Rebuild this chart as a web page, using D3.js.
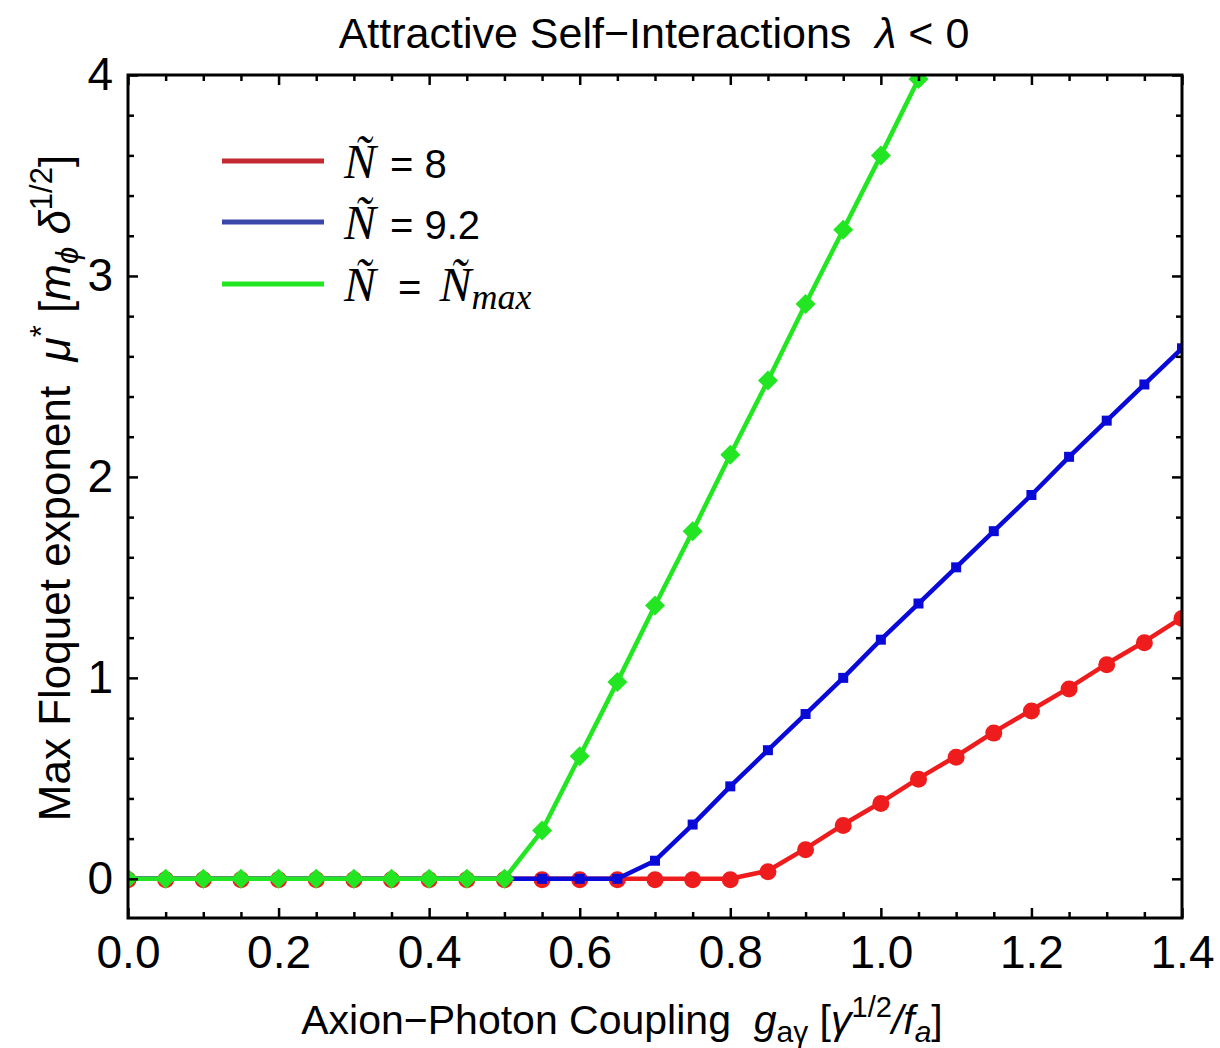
<!DOCTYPE html>
<html>
  <head>
    <meta charset="utf-8">
    <title>Max Floquet exponent</title>
    <script src="https://d3js.org/d3.v7.min.js"></script>
    <style>
      body { margin: 0; background: #fff; }
      text { font-family: "Liberation Sans", Arial, sans-serif; fill: #000; white-space: pre; }
      .serif { font-family: "Liberation Serif", "DejaVu Serif", serif; font-style: italic; }
    </style>
  </head>
  <body>
    <script>
      // coupling values g_aγ (x axis)
      const couplings = [0.0, 0.05, 0.1, 0.15, 0.2, 0.25, 0.3, 0.35, 0.4, 0.45, 0.5, 0.55, 0.6, 0.65, 0.7,
                         0.75, 0.8, 0.85, 0.9, 0.95, 1.0, 1.05, 1.1, 1.15, 1.2, 1.25, 1.3, 1.35, 1.4];

      // max Floquet exponent for each series
      const muN8 = [0, 0, 0, 0, 0, 0, 0, 0, 0, 0, 0, 0, 0, 0, 0,
                    0, 0, 0.04, 0.15, 0.27, 0.38, 0.50, 0.61, 0.73, 0.84, 0.95, 1.07, 1.18, 1.30];
      const muN92 = [0, 0, 0, 0, 0, 0, 0, 0, 0, 0, 0, 0, 0, 0, 0.09,
                     0.27, 0.46, 0.64, 0.82, 1.00, 1.19, 1.37, 1.55, 1.73, 1.91, 2.10, 2.28, 2.46, 2.64];
      const muNmax = [0, 0, 0, 0, 0, 0, 0, 0, 0, 0, 0, 0.24, 0.61, 0.98, 1.36,
                      1.73, 2.11, 2.48, 2.86, 3.23, 3.60, 3.98];

      const xMajor = [0, 0.2, 0.4, 0.6, 0.8, 1.0, 1.2, 1.4];
      const yMajor = [0, 1, 2, 3, 4];

      const W = 1220, H = 1048;
      const svg = d3.select("body").append("svg")
          .attr("width", W)
          .attr("height", H);

      const x = d3.scaleLinear().domain([0, 1.4]).range([128, 1182]);
      const y = d3.scaleLinear().domain([-0.195, 4]).range([918, 75]);

      // clip to the frame
      svg.append("clipPath").attr("id", "plotclip")
        .append("rect")
          .attr("x", x(0)).attr("y", y(4))
          .attr("width", x(1.4) - x(0)).attr("height", y(-0.195) - y(4));

      // ---- series ----
      const series = [
        {vals: muN8, color: "#ee1c1c", shape: "circle"},
        {vals: muN92, color: "#0a0ad8", shape: "square"},
        {vals: muNmax, color: "#22e622", shape: "diamond"}
      ];

      const line = d3.line()
          .x(d => x(d[0]))
          .y(d => y(d[1]));

      const plot = svg.append("g").attr("clip-path", "url(#plotclip)");

      series.forEach(s => {
        const pts = s.vals.map((v, i) => [couplings[i], v]);
        // the N_max curve keeps rising past the top frame
        let linePts = pts;
        if (s.shape === "diamond") {
          const n = pts.length;
          const a = pts[n - 2], b = pts[n - 1];
          linePts = pts.concat([[b[0] + (b[0] - a[0]), b[1] + (b[1] - a[1])]]);
        }
        plot.append("path")
            .datum(linePts)
            .attr("d", line)
            .attr("fill", "none")
            .attr("stroke", s.color)
            .attr("stroke-width", 4.5)
            .attr("stroke-linejoin", "round");

        const g = plot.append("g").attr("fill", s.color);
        pts.forEach(p => {
          const cx = x(p[0]), cy = y(p[1]);
          if (s.shape === "circle") {
            g.append("circle").attr("cx", cx).attr("cy", cy + 1).attr("r", 8.5);
          } else if (s.shape === "square") {
            g.append("rect").attr("x", cx - 5).attr("y", cy - 5).attr("width", 10).attr("height", 10);
          } else {
            g.append("path")
              .attr("d", `M${cx},${cy - 10}L${cx + 10},${cy}L${cx},${cy + 10}L${cx - 10},${cy}Z`);
          }
        });
      });

      // ---- axes (ticks point inward, on all four sides) ----
      const xMinor = couplings.filter(v => !xMajor.some(m => Math.abs(m - v) < 1e-9));
      const yMinor = d3.range(-1, 20).map(i => i * 0.2).filter(v => v > -0.19 && Math.abs(v - Math.round(v)) > 1e-9);

      function styleAxis(g) {
        g.selectAll("path.domain").remove();
        g.selectAll("line").attr("stroke", "#000").attr("stroke-width", 2.5);
        g.selectAll("text").attr("font-size", 46).attr("font-family", "Liberation Sans, Arial, sans-serif");
      }

      svg.append("g").attr("transform", `translate(0,${y(-0.195)})`)
        .call(d3.axisBottom(x).tickValues(xMajor).tickSize(-10).tickPadding(17).tickFormat(d3.format(".1f")))
        .call(styleAxis);
      svg.append("g").attr("transform", `translate(0,${y(-0.195)})`)
        .call(d3.axisBottom(x).tickValues(xMinor).tickSize(-6).tickFormat(""))
        .call(styleAxis);
      svg.append("g").attr("transform", `translate(0,${y(4)})`)
        .call(d3.axisTop(x).tickValues(xMajor).tickSize(-10).tickFormat(""))
        .call(styleAxis);
      svg.append("g").attr("transform", `translate(0,${y(4)})`)
        .call(d3.axisTop(x).tickValues(xMinor).tickSize(-6).tickFormat(""))
        .call(styleAxis);

      svg.append("g").attr("transform", `translate(${x(0)},0)`)
        .call(d3.axisLeft(y).tickValues(yMajor).tickSize(-10).tickPadding(15).tickFormat(d3.format("d")))
        .call(styleAxis);
      svg.append("g").attr("transform", `translate(${x(0)},0)`)
        .call(d3.axisLeft(y).tickValues(yMinor).tickSize(-6).tickFormat(""))
        .call(styleAxis);
      svg.append("g").attr("transform", `translate(${x(1.4)},0)`)
        .call(d3.axisRight(y).tickValues(yMajor).tickSize(-10).tickFormat(""))
        .call(styleAxis);
      svg.append("g").attr("transform", `translate(${x(1.4)},0)`)
        .call(d3.axisRight(y).tickValues(yMinor).tickSize(-6).tickFormat(""))
        .call(styleAxis);

      // frame
      svg.append("rect")
          .attr("x", x(0)).attr("y", y(4))
          .attr("width", x(1.4) - x(0)).attr("height", y(-0.195) - y(4))
          .attr("fill", "none")
          .attr("stroke", "#000")
          .attr("stroke-width", 3);

      // ---- title ----
      const title = svg.append("text")
          .attr("x", 654).attr("y", 48)
          .attr("text-anchor", "middle")
          .attr("font-size", 43);
      title.append("tspan").text("Attractive Self\u2212Interactions\u00a0\u00a0");
      title.append("tspan").attr("font-style", "italic").text("\u03bb");
      title.append("tspan").text(" < 0");

      // ---- x label ----
      const xl = svg.append("text")
          .attr("x", 622).attr("y", 1034)
          .attr("text-anchor", "middle")
          .attr("font-size", 41);
      xl.append("tspan").text("Axion\u2212Photon Coupling\u00a0\u00a0");
      xl.append("tspan").attr("font-style", "italic").text("g");
      xl.append("tspan").attr("font-size", 30).attr("dy", 8).text("a\u03b3");
      xl.append("tspan").attr("dy", -8).text("\u00a0[");
      xl.append("tspan").attr("font-style", "italic").text("\u03b3");
      xl.append("tspan").attr("font-size", 29).attr("dy", -17).text("1/2");
      xl.append("tspan").attr("dy", 17).attr("font-style", "italic").text("/f");
      xl.append("tspan").attr("font-size", 30).attr("font-style", "italic").attr("dy", 8).text("a");
      xl.append("tspan").attr("dy", -8).text("]");

      // ---- y label ----
      const yl = svg.append("text")
          .attr("transform", "translate(70,488) rotate(-90)")
          .attr("text-anchor", "middle")
          .attr("font-size", 44);
      yl.append("tspan").text("Max Floquet exponent\u00a0\u00a0");
      yl.append("tspan").attr("font-style", "italic").text("\u03bc");
      yl.append("tspan").attr("font-size", 31).attr("dy", -18).text("*");
      yl.append("tspan").attr("dy", 18).text("\u00a0[");
      yl.append("tspan").attr("font-style", "italic").text("m");
      yl.append("tspan").attr("font-size", 31).attr("font-style", "italic").attr("dy", 8).text("\u03d5");
      yl.append("tspan").attr("dy", -8).text("\u00a0");
      yl.append("tspan").attr("font-style", "italic").text("\u03b4");
      yl.append("tspan").attr("font-size", 31).attr("dy", -18).text("1/2");
      yl.append("tspan").attr("dy", 18).text("]");

      // ---- legend ----
      const legendLabels = ["= 8", "= 9.2", "="];
      const legendColors = ["#c42a30", "#3a46a8", "#22e622"];
      const legendY = [161, 222, 284];

      legendLabels.forEach((lab, i) => {
        svg.append("line")
            .attr("x1", 222).attr("x2", 324)
            .attr("y1", legendY[i]).attr("y2", legendY[i])
            .attr("stroke", legendColors[i])
            .attr("stroke-width", 5);
        const t = svg.append("text")
            .attr("x", 344).attr("y", legendY[i] + 17)
            .attr("font-size", 40);
        t.append("tspan").attr("class", "serif").attr("font-size", 48).text("\u00d1");
        t.append("tspan").attr("dx", i === 2 ? 22 : 14).text(lab);
        if (i === 2) {
          t.append("tspan").attr("class", "serif").attr("font-size", 48).attr("dx", 18).text("\u00d1");
          t.append("tspan").attr("class", "serif").attr("font-size", 36).attr("dy", 8).text("max");
        }
      });
    </script>
  </body>
</html>
